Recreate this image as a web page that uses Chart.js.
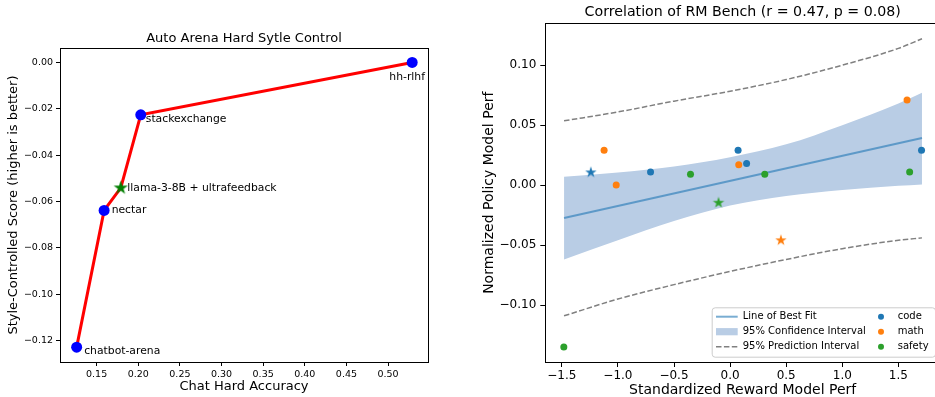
<!DOCTYPE html>
<html>
<head>
<meta charset="utf-8">
<script src="https://cdn.jsdelivr.net/npm/chart.js@4.4.1/dist/chart.umd.min.js"></script>
<style>
  html, body { margin: 0; padding: 0; background: #fff; overflow: hidden; }
  #wrap { position: relative; width: 935px; height: 397px; overflow: hidden; }
  #arena { position: absolute; left: 0; top: 0; }
  #rmbench { position: absolute; left: 470px; top: 0; }
</style>
</head>
<body>
<div id="wrap">
  <canvas id="arena" width="470" height="397"></canvas>
  <canvas id="rmbench" width="474" height="397"></canvas>
</div>
<script>
// --- Auto Arena Hard (style control) ---
const prefData = ['chatbot-arena', 'nectar', 'llama-3-8B + ultrafeedback', 'stackexchange', 'hh-rlhf'];
const chatHardAcc = [0.126, 0.159, 0.179, 0.203, 0.529];
const styleScore = [-0.1228, -0.0638, -0.0541, -0.0226, 0.0];
const baseModel = 'llama-3-8B + ultrafeedback';

// --- RM Bench correlation ---
const categories = ['code', 'math', 'safety'];
const codeX = [-0.709, 0.071, 0.147, 1.706];
const codeY = [0.011, 0.029, 0.018, 0.029];
const mathX = [-1.123, -1.015, 0.077, 1.577];
const mathY = [0.029, 0.000, 0.017, 0.071];
const safetyX = [-1.482, -0.353, 0.309, 1.600];
const safetyY = [-0.135, 0.009, 0.009, 0.011];
// starred runs, one per category (code, math, safety)
const starX = [-1.241, 0.453, -0.103];
const starY = [0.0106, -0.046, -0.0147];

const fitX = [-1.48, 1.71];
const fitY = [-0.0275, 0.0392];
const bandX = [-1.48, -1.0, -0.5, 0.0, 0.5, 1.0, 1.5, 1.71];
const ciUpper = [0.0069, 0.0105, 0.0155, 0.0233, 0.0340, 0.0500, 0.0680, 0.0770];
const ciLower = [-0.0620, -0.0460, -0.0300, -0.0170, -0.0090, -0.0040, -0.0005, 0.0006];
const piUpper = [0.0536, 0.0610, 0.0700, 0.0783, 0.0880, 0.1000, 0.1140, 0.1220];
const piLower = [-0.1090, -0.0950, -0.0830, -0.0720, -0.0620, -0.0530, -0.0460, -0.0440];

const tab = { code: '#1f77b4', math: '#ff7f0e', safety: '#2ca02c' };
const bandColor = '#b9cde5';
const fitColor = 'rgba(31,119,180,0.6)';
const dash = [5.5, 2.4];

Chart.defaults.font.family = "'DejaVu Sans', sans-serif";
Chart.defaults.color = '#000';

const fmt = (v, d) => {
  if (Math.abs(v) < 1e-9) v = 0;
  const s = Math.abs(v).toFixed(d);
  return v < 0 ? '\u2212' + s : s;
};
const pts = (xs, ys) => xs.map((x, i) => ({ x, y: ys[i] }));

function starImage(r, color) {
  const size = Math.ceil(r * 2) + 2;
  const c = document.createElement('canvas');
  c.width = c.height = size;
  const g = c.getContext('2d');
  g.beginPath();
  for (let i = 0; i < 10; i++) {
    const rad = i % 2 ? r * 0.382 : r;
    const a = -Math.PI / 2 + i * Math.PI / 5;
    g.lineTo(size / 2 + rad * Math.cos(a), size / 2 + rad * Math.sin(a));
  }
  g.closePath();
  g.fillStyle = color;
  g.fill();
  return c;
}

// full box around the plot area
const frame = {
  id: 'frame',
  afterDatasetsDraw(chart) {
    const { ctx, chartArea: a } = chart;
    ctx.save();
    ctx.strokeStyle = '#000';
    ctx.lineWidth = 1;
    ctx.strokeRect(Math.round(a.left) + 0.5, Math.round(a.top) + 0.5,
      Math.round(a.right - a.left), Math.round(a.bottom - a.top));
    ctx.restore();
  }
};

function axis(extra) {
  return Object.assign({
    type: 'linear',
    grid: { display: true, drawOnChartArea: false, tickLength: 4, color: '#000' },
    border: { display: true, color: '#000' }
  }, extra);
}

// ---------------- left: Auto Arena ----------------
const labelOffsets = {
  'chatbot-arena': [7.5, 4.5, 'left'],
  'nectar': [7.5, 0, 'left'],
  'llama-3-8B + ultrafeedback': [6.5, 0, 'left'],
  'stackexchange': [5, 4.5, 'left'],
  'hh-rlhf': [-5, 15, 'center']
};

const pointLabels = {
  id: 'pointLabels',
  afterDatasetsDraw(chart) {
    const { ctx } = chart;
    const meta = chart.getDatasetMeta(0);
    ctx.save();
    ctx.font = "10.8px 'DejaVu Sans'";
    ctx.fillStyle = '#000';
    ctx.textBaseline = 'middle';
    meta.data.forEach((p, i) => {
      const [dx, dy, align] = labelOffsets[prefData[i]];
      ctx.textAlign = align;
      ctx.fillText(prefData[i], p.x + dx, p.y + dy);
    });
    ctx.restore();
  }
};

const greenStar = starImage(7.5, '#008000');

new Chart(document.getElementById('arena'), {
  type: 'line',
  data: {
    datasets: [{
      data: pts(chatHardAcc, styleScore),
      borderColor: '#ff0000',
      borderWidth: 3,
      tension: 0,
      pointStyle: prefData.map(n => n === baseModel ? greenStar : 'circle'),
      pointRadius: 5.5,
      pointBorderWidth: 0,
      pointBackgroundColor: prefData.map(n => n === baseModel ? '#008000' : '#0000ff'),
      pointBorderColor: prefData.map(n => n === baseModel ? '#008000' : '#0000ff')
    }]
  },
  options: {
    responsive: false,
    animation: false,
    layout: { padding: { left: 0, right: 42, top: 0, bottom: 0 } },
    plugins: {
      legend: { display: false },
      tooltip: { enabled: false },
      title: {
        display: true, fullSize: false, text: 'Auto Arena Hard Sytle Control',
        color: '#000', font: { size: 13, weight: 'normal' }, padding: { top: 30.5, bottom: 2 }
      }
    },
    scales: {
      x: axis({
        min: 0.106, max: 0.548,
        afterFit: s => { s.height = 35; },
        ticks: { stepSize: 0.05, includeBounds: false, autoSkip: false, maxRotation: 0,
          font: { size: 9.5 }, color: '#000', padding: 2.5, callback: v => fmt(v, 2) },
        title: { display: true, text: 'Chat Hard Accuracy', color: '#000',
          font: { size: 13 }, padding: { top: 0, bottom: 2.5 } }
      }),
      y: axis({
        min: -0.1292, max: 0.0062,
        afterFit: s => { s.width = 60; },
        ticks: { stepSize: 0.02, includeBounds: false, autoSkip: false,
          font: { size: 9.5 }, color: '#000', padding: 3, callback: v => fmt(v, 2) },
        title: { display: true, text: 'Style-Controlled Score (higher is better)', color: '#000',
          font: { size: 13 }, padding: { top: 6, bottom: 0 } }
      })
    }
  },
  plugins: [frame, pointLabels]
});

// ---------------- right: RM Bench ----------------
const legendBox = {
  id: 'legendBox',
  afterDraw(chart) {
    const { ctx, chartArea: a } = chart;
    const w = 223.3, h = 49.4;
    const x0 = a.right - 5 - w, y0 = a.bottom - 5.3 - h;
    ctx.save();
    ctx.beginPath();
    ctx.roundRect(x0 + 0.5, y0 + 0.5, w, h, 3);
    ctx.fillStyle = 'rgba(255,255,255,0.8)';
    ctx.fill();
    ctx.strokeStyle = '#cccccc';
    ctx.lineWidth = 1;
    ctx.stroke();

    const rows = [y0 + 9.4, y0 + 24.4, y0 + 39.4];
    const hx0 = x0 + 4.3, hx1 = x0 + 26, tx = x0 + 31;
    // line of best fit
    ctx.strokeStyle = fitColor;
    ctx.lineWidth = 2;
    ctx.beginPath(); ctx.moveTo(hx0, rows[0]); ctx.lineTo(hx1, rows[0]); ctx.stroke();
    // confidence band
    ctx.fillStyle = bandColor;
    ctx.fillRect(hx0, rows[1] - 3.6, hx1 - hx0, 7.2);
    // prediction interval
    ctx.strokeStyle = '#808080';
    ctx.lineWidth = 1.5;
    ctx.setLineDash(dash);
    ctx.beginPath(); ctx.moveTo(hx0, rows[2]); ctx.lineTo(hx1, rows[2]); ctx.stroke();
    ctx.setLineDash([]);

    ctx.font = "10px 'DejaVu Sans'";
    ctx.textBaseline = 'middle';
    ctx.textAlign = 'left';
    ctx.fillStyle = '#000';
    ['Line of Best Fit', '95% Confidence Interval', '95% Prediction Interval']
      .forEach((t, i) => ctx.fillText(t, tx, rows[i]));
    categories.forEach((c, i) => {
      ctx.fillStyle = tab[c];
      ctx.beginPath(); ctx.arc(x0 + 169.3, rows[i], 3, 0, Math.PI * 2); ctx.fill();
      ctx.fillStyle = '#000';
      ctx.fillText(c, x0 + 186, rows[i]);
    });
    ctx.restore();
  }
};

const dots = (xs, ys, color) => ({
  data: pts(xs, ys), showLine: false, order: 0,
  pointRadius: 3.5, pointBorderWidth: 0,
  pointBackgroundColor: color, pointBorderColor: color
});
const curve = (xs, ys, extra) => Object.assign({
  data: pts(xs, ys), pointRadius: 0, tension: 0, cubicInterpolationMode: 'monotone'
}, extra);

new Chart(document.getElementById('rmbench'), {
  type: 'line',
  data: {
    datasets: [
      dots(codeX, codeY, tab.code),
      dots(mathX, mathY, tab.math),
      dots(safetyX, safetyY, tab.safety),
      {
        data: pts(starX, starY), showLine: false, order: 0,
        pointStyle: categories.map(c => starImage(6, tab[c])),
        pointBorderWidth: 0
      },
      curve(fitX, fitY, { borderColor: fitColor, borderWidth: 2, order: 1 }),
      curve(bandX, ciUpper, { borderWidth: 0, fill: '+1', backgroundColor: bandColor, order: 3 }),
      curve(bandX, ciLower, { borderWidth: 0, order: 3 }),
      curve(bandX, piUpper, { borderColor: '#808080', borderWidth: 1.5, borderDash: dash, order: 2 }),
      curve(bandX, piLower, { borderColor: '#808080', borderWidth: 1.5, borderDash: dash, order: 2 })
    ]
  },
  options: {
    responsive: false,
    animation: false,
    layout: { padding: { left: 0, right: 0, top: 0, bottom: 0 } },
    plugins: {
      legend: { display: false },
      tooltip: { enabled: false },
      title: {
        display: true, fullSize: false, text: 'Correlation of RM Bench (r = 0.47, p = 0.08)',
        color: '#000', font: { size: 14.2, weight: 'normal' }, padding: { top: 4.2, bottom: 2.2 }
      }
    },
    scales: {
      x: axis({
        min: -1.647, max: 1.8706,
        afterFit: s => { s.height = 35; },
        grid: { display: true, drawOnChartArea: false, tickLength: 5, color: '#000' },
        ticks: { stepSize: 0.5, includeBounds: false, autoSkip: false, maxRotation: 0,
          font: { size: 12 }, color: '#000', padding: 2, callback: v => fmt(v, 1) },
        title: { display: true, text: 'Standardized Reward Model Perf', color: '#000',
          font: { size: 14 }, padding: { top: 0, bottom: -2 } }
      }),
      y: axis({
        min: -0.1475, max: 0.1348,
        afterFit: s => { s.width = 75.3; },
        grid: { display: true, drawOnChartArea: false, tickLength: 5, color: '#000' },
        ticks: { stepSize: 0.05, includeBounds: false, autoSkip: false,
          font: { size: 12 }, color: '#000', padding: 4, callback: v => fmt(v, 2) },
        title: { display: true, text: 'Normalized Policy Model Perf', color: '#000',
          font: { size: 14 }, padding: { top: 10.8, bottom: 0 } }
      })
    }
  },
  plugins: [frame, legendBox]
});
</script>
</body>
</html>
